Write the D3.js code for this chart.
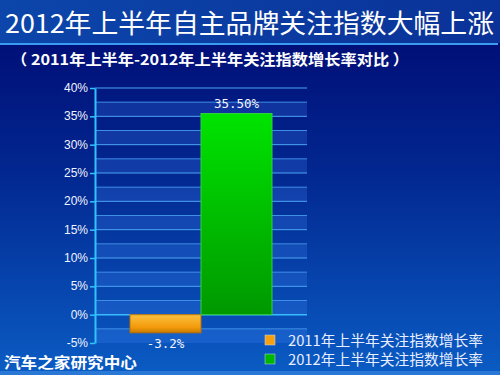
<!DOCTYPE html>
<html>
<head>
<meta charset="utf-8">
<title>2012年上半年自主品牌关注指数大幅上涨</title>
<script src="https://d3js.org/d3.v7.min.js"></script>
<style>
  html, body { margin: 0; padding: 0; background: #000a6e; }
  svg { display: block; }
</style>
</head>
<body>
<div id="chart"></div>
<script>
// data
var titleText = "2012年上半年自主品牌关注指数大幅上涨";
var subtitleText = "（ 2011年上半年-2012年上半年关注指数增长率对比 ）";
var sourceText = "汽车之家研究中心";
var categories = ["关注指数增长率"];
var seriesNames = ["2011年上半年关注指数增长率", "2012年上半年关注指数增长率"];
var seriesValues = [-3.2, 35.5];
var valueLabels = ["-3.2%", "35.50%"];
var yTicks = [-5, 0, 5, 10, 15, 20, 25, 30, 35, 40];

var width = 500, height = 375;
var plot = { left: 95, right: 307, top: 88, bottom: 343 };

var svg = d3.select("#chart").append("svg")
    .attr("width", width)
    .attr("height", height);

var defs = svg.append("defs");

var bg = defs.append("linearGradient").attr("id", "bg")
    .attr("x1", 0).attr("y1", 0).attr("x2", 0).attr("y2", 1);
bg.append("stop").attr("offset", "0%").attr("stop-color", "#000870");
bg.append("stop").attr("offset", "45%").attr("stop-color", "#02268f");
bg.append("stop").attr("offset", "100%").attr("stop-color", "#0a5cc4");

var head = defs.append("linearGradient").attr("id", "head")
    .attr("x1", 0).attr("y1", 0).attr("x2", 1).attr("y2", 0);
head.append("stop").attr("offset", "0%").attr("stop-color", "#0c46ab");
head.append("stop").attr("offset", "100%").attr("stop-color", "#0a3298");

var orange = defs.append("linearGradient").attr("id", "orange")
    .attr("x1", 0).attr("y1", 0).attr("x2", 0).attr("y2", 1);
orange.append("stop").attr("offset", "0%").attr("stop-color", "#fbc040");
orange.append("stop").attr("offset", "70%").attr("stop-color", "#f29a0a");
orange.append("stop").attr("offset", "100%").attr("stop-color", "#c87800");

var green = defs.append("linearGradient").attr("id", "green")
    .attr("x1", 0).attr("y1", 0).attr("x2", 0).attr("y2", 1);
green.append("stop").attr("offset", "0%").attr("stop-color", "#00e400");
green.append("stop").attr("offset", "100%").attr("stop-color", "#009800");

var fills = ["url(#orange)", "url(#green)"];
var strokes = ["#b87000", "#30d040"];
var legendFills = ["#f5a010", "#00b800"];

// background
svg.append("rect").attr("width", width).attr("height", height).attr("fill", "url(#bg)");

// title bar
svg.append("rect").attr("x", 0).attr("y", 0).attr("width", width).attr("height", 43)
    .attr("fill", "url(#head)");
svg.append("rect").attr("x", 0).attr("y", 43).attr("width", 498).attr("height", 2)
    .attr("fill", "#3a9cf0");
svg.append("rect").attr("x", 0).attr("y", 371).attr("width", width).attr("height", 4)
    .attr("fill", "#2a78d6");

svg.append("text")
    .attr("x", 5).attr("y", 33)
    .attr("textLength", 489).attr("lengthAdjust", "spacingAndGlyphs")
    .style("font-family", "'Noto Sans CJK SC', sans-serif")
    .style("font-size", "26px")
    .style("fill", "#ffffff")
    .text(titleText);

svg.append("text")
    .attr("x", 11).attr("y", 65)
    .attr("textLength", 398).attr("lengthAdjust", "spacingAndGlyphs")
    .style("font-family", "'Noto Sans CJK SC', sans-serif")
    .style("font-size", "15px")
    .style("font-weight", "bold")
    .style("fill", "#ffffff")
    .text(subtitleText);

// scales
var y = d3.scaleLinear().domain([-5, 40]).range([plot.bottom, plot.top]);
var x0 = d3.scaleBand().domain(categories).range([plot.left, plot.right])
    .paddingInner(0).paddingOuter(0.2465);
var x1 = d3.scaleBand().domain(seriesNames).range([0, x0.bandwidth()]).padding(0);

// stripes
var g = svg.append("g");
g.selectAll("rect.band")
    .data(yTicks.slice(0, -1))
    .enter().append("rect")
    .attr("class", "band")
    .attr("x", plot.left)
    .attr("width", plot.right - plot.left)
    .attr("y", function(d) { return y(d + 2.5); })
    .attr("height", function(d) { return y(d) - y(d + 2.5); })
    .attr("fill", "#4a8cff")
    .attr("fill-opacity", 0.22);

g.selectAll("line.minor")
    .data(yTicks.slice(0, -1))
    .enter().append("line")
    .attr("class", "minor")
    .attr("x1", plot.left).attr("x2", plot.right)
    .attr("y1", function(d) { return y(d + 2.5); })
    .attr("y2", function(d) { return y(d + 2.5); })
    .attr("stroke", "#3f8ee6")
    .attr("stroke-width", 1);

g.selectAll("line.grid")
    .data(yTicks.slice(1))
    .enter().append("line")
    .attr("class", "grid")
    .attr("x1", plot.left).attr("x2", plot.right)
    .attr("y1", function(d) { return y(d); })
    .attr("y2", function(d) { return y(d); })
    .attr("stroke", function(d) { return d === 0 ? "#38bcff" : "#4aa4f4"; })
    .attr("stroke-width", function(d) { return d === 0 ? 1.5 : 1; });

// y axis
var yAxis = d3.axisLeft(y)
    .tickValues(yTicks)
    .tickFormat(function(d) { return d + "%"; })
    .tickSize(5)
    .tickSizeOuter(0);

var ax = svg.append("g")
    .attr("transform", "translate(" + plot.left + ",0)")
    .call(yAxis);
ax.select(".domain").attr("stroke", "#30c4ff").attr("stroke-width", 2);
ax.selectAll(".tick line").attr("stroke", "#30c4ff").attr("stroke-width", 1.5);
ax.selectAll(".tick text")
    .attr("x", -7)
    .attr("dy", "0.3em")
    .style("font-family", "Arial, 'Liberation Sans', sans-serif")
    .style("font-size", "12px")
    .style("fill", "#f0f4ff");

// bars
var bars = svg.append("g").selectAll("g")
    .data(categories)
    .enter().append("g")
    .attr("transform", function(d) { return "translate(" + x0(d) + ",0)"; });

bars.selectAll("rect")
    .data(seriesValues)
    .enter().append("rect")
    .attr("x", function(d, i) { return x1(seriesNames[i]); })
    .attr("width", x1.bandwidth())
    .attr("y", function(d) { return y(Math.max(0, d)); })
    .attr("height", function(d) { return Math.abs(y(d) - y(0)); })
    .attr("fill", function(d, i) { return fills[i]; })
    .attr("stroke", function(d, i) { return strokes[i]; })
    .attr("stroke-width", 1);

bars.selectAll("text")
    .data(seriesValues)
    .enter().append("text")
    .attr("x", function(d, i) { return x1(seriesNames[i]) + x1.bandwidth() / 2; })
    .attr("y", function(d) { return d >= 0 ? y(d) - 6 : y(d) + 15; })
    .attr("text-anchor", "middle")
    .style("font-family", "'DejaVu Sans Mono', monospace")
    .style("font-size", "12.5px")
    .style("fill", "#f4f6ff")
    .text(function(d, i) { return valueLabels[i]; });

// legend
var legend = svg.append("g").selectAll("g")
    .data(seriesNames)
    .enter().append("g")
    .attr("transform", function(d, i) { return "translate(265," + (335 + i * 19) + ")"; });

legend.append("rect")
    .attr("width", 10).attr("height", 10)
    .attr("fill", function(d, i) { return legendFills[i]; })
    .attr("stroke", "#d0d8f0").attr("stroke-width", 0.5);

legend.append("text")
    .attr("x", 23).attr("y", 11)
    .attr("textLength", 195).attr("lengthAdjust", "spacingAndGlyphs")
    .style("font-family", "'Noto Sans CJK SC', sans-serif")
    .style("font-size", "14.5px")
    .style("fill", "#e8eeff")
    .text(function(d) { return d; });

// source
svg.append("text")
    .attr("x", 4).attr("y", 368)
    .attr("textLength", 133).attr("lengthAdjust", "spacingAndGlyphs")
    .style("font-family", "'Noto Sans CJK SC', sans-serif")
    .style("font-size", "15px")
    .style("font-weight", "bold")
    .style("fill", "#ffffff")
    .text(sourceText);
</script>
</body>
</html>
